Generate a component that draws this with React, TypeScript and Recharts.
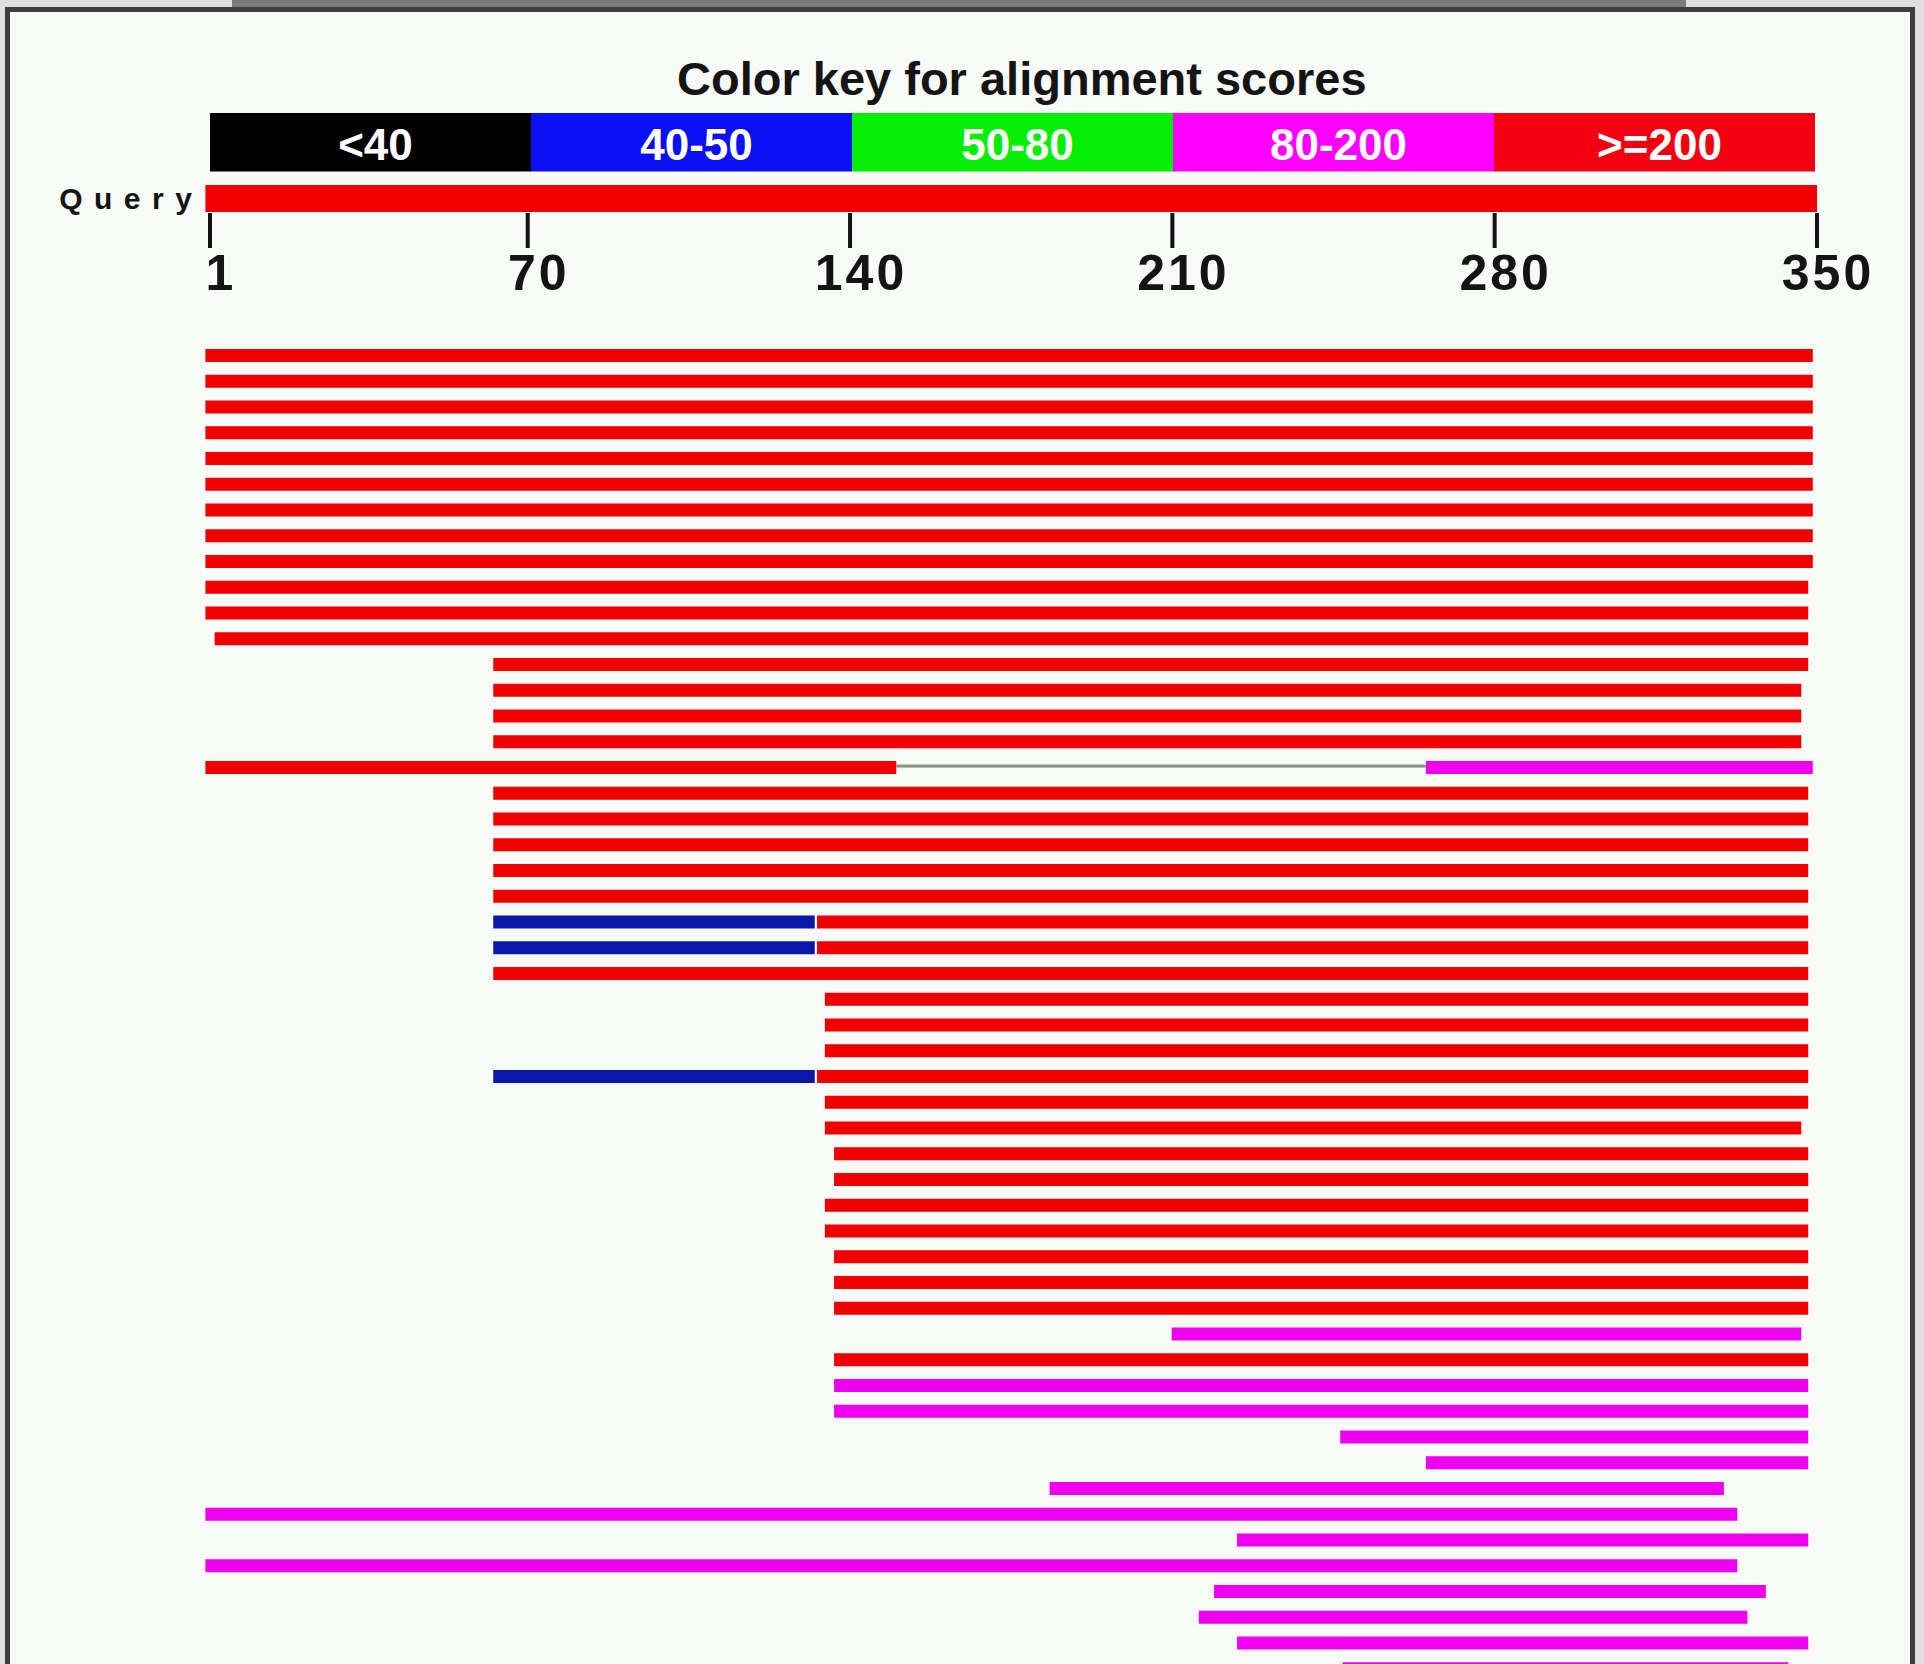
import { BarChart, Bar, XAxis, YAxis, Cell } from 'recharts'

const FONT = '"Liberation Sans", Arial, sans-serif'

// score legend
const scoreBands = ['<40', '40-50', '50-80', '80-200', '>=200']
const keyColors = ['#000000', '#0a0ff4', '#05ee05', '#ff00ff', '#f2000f']
const hitColors = ['#000000', '#0818a8', '#00c000', '#ee00ee', '#f00000']

// query
const queryLength = 350
const axisTicks = [1, 70, 140, 210, 280, 350]

// hits, top to bottom (query coordinates)
const hitStart = [
    0, 0, 0, 0, 0, 0, 0, 0, 0, 0,
    0, 2, 62.5, 62.5, 62.5, 62.5, 0, 62.5, 62.5, 62.5,
    62.5, 62.5, 62.5, 62.5, 62.5, 134.5, 134.5, 134.5, 62.5, 134.5,
    134.5, 136.5, 136.5, 134.5, 134.5, 136.5, 136.5, 136.5, 209.8, 136.5,
    136.5, 136.5, 246.4, 265, 183.3, 0, 224, 0, 219, 215.7,
    224, 246.9,
]
const hitEnd = [
    349, 349, 349, 349, 349, 349, 349, 349, 349, 348,
    348, 348, 348, 346.5, 346.5, 346.5, 349, 348, 348, 348,
    348, 348, 348, 348, 348, 348, 348, 348, 348, 348,
    346.5, 348, 348, 348, 348, 348, 348, 348, 346.5, 348,
    348, 348, 348, 348, 329.7, 332.6, 348, 332.6, 338.8, 334.8,
    348, 343.7,
]
// band index of the (last) HSP of each hit
const hitBand = [
    4, 4, 4, 4, 4, 4, 4, 4, 4, 4,
    4, 4, 4, 4, 4, 4, 3, 4, 4, 4,
    4, 4, 4, 4, 4, 4, 4, 4, 4, 4,
    4, 4, 4, 4, 4, 4, 4, 4, 3, 4,
    3, 3, 3, 3, 3, 3, 3, 3, 3, 3,
    3, 3,
]

// hits made of two HSPs
const splitRows = [16, 22, 23, 28]
const splitFirstEnd = [150, 132.3, 132.3, 132.3]
const splitFirstBand = [4, 1, 1, 1]
const splitSecondStart = [265, 132.8, 132.8, 132.8]

const rows = hitStart.map((start, i) => {
    const s = splitRows.indexOf(i)
    if (s < 0) {
        return { id: `hit${i + 1}`, lead: start, first: hitEnd[i] - start, firstBand: hitBand[i], link: 0, second: 0, secondBand: hitBand[i] }
    }
    return {
        id: `hit${i + 1}`,
        lead: start,
        first: splitFirstEnd[s] - start,
        firstBand: splitFirstBand[s],
        link: splitSecondStart[s] - splitFirstEnd[s],
        second: hitEnd[i] - splitSecondStart[s],
        secondBand: hitBand[i],
    }
})

const keyRow: Record<string, string | number> = { name: 'key' }
scoreBands.forEach(b => { keyRow[b] = 1 })

function LinkShape(props: any) {
    const { x, y, width, height } = props
    if (!width || width < 8) return null
    return <rect x={x} y={y + height / 2 - 3} width={width} height={3} fill="#8a958a" />
}

function AxisTick(props: any) {
    const { x, y, payload } = props
    return (
        <text x={x + 11} y={y} dy="0.71em" textAnchor="middle" fontSize={50} fontWeight="bold" letterSpacing={3} fill="#141414" fontFamily={FONT}>
            {payload.value}
        </text>
    )
}

function QueryTick(props: any) {
    const { x, y, payload } = props
    return (
        <text x={x} y={y} dy="0.36em" textAnchor="end" fontSize={30} fontWeight="bold" letterSpacing={11.5} fill="#141414" fontFamily={FONT}>
            {payload.value}
        </text>
    )
}

export default function App() {
    return (
        <div style={{ position: 'absolute', left: 0, top: 0, width: 1924, height: 1664, overflow: 'hidden', background: '#dedede', fontFamily: FONT }}>
            <div style={{ position: 'absolute', left: 232, top: 0, width: 1454, height: 8, background: '#7a7a7a' }} />
            <div style={{ position: 'absolute', left: 5, top: 7, width: 1910, height: 1720, boxSizing: 'border-box', border: '5px solid #3e3e3e', background: '#f7faf6' }} />

            <div style={{ position: 'absolute', left: 677, top: 56, fontSize: 47, lineHeight: '46px', fontWeight: 'bold', color: '#141414', whiteSpace: 'nowrap' }}>
                Color key for alignment scores
            </div>

            <div style={{ position: 'absolute', left: 0, top: 110 }}>
                <BarChart layout="vertical" width={1924} height={65} data={[keyRow]} margin={{ top: 0, right: 109, bottom: 0, left: 210 }} barCategoryGap={0}>
                    <XAxis type="number" hide domain={[0, scoreBands.length]} />
                    <YAxis type="category" dataKey="name" hide />
                    {scoreBands.map((band, i) => (
                        <Bar
                            key={band}
                            dataKey={band}
                            stackId="key"
                            fill={keyColors[i]}
                            barSize={65}
                            isAnimationActive={false}
                            label={(p: any) => (
                                <text x={p.x + p.width / 2 + 5} y={p.y + p.height / 2 + 2} dy="0.36em" textAnchor="middle" fontSize={44} fontWeight="bold" fill="#ffffff" fontFamily={FONT}>
                                    {band}
                                </text>
                            )}
                        />
                    ))}
                </BarChart>
            </div>

            <div style={{ position: 'absolute', left: 0, top: 183 }}>
                <BarChart layout="vertical" width={1924} height={120} data={[{ name: 'Query', length: queryLength }]} margin={{ top: 0, right: 107, bottom: 0, left: 0 }}>
                    <XAxis
                        type="number"
                        domain={[0, queryLength]}
                        ticks={axisTicks}
                        interval={0}
                        axisLine={false}
                        tickLine={{ stroke: '#141414', strokeWidth: 4 }}
                        tickSize={35}
                        tickMargin={6}
                        height={90}
                        tick={<AxisTick />}
                    />
                    <YAxis type="category" dataKey="name" width={205.4} axisLine={false} tickLine={false} tickSize={0} tickMargin={2} tick={<QueryTick />} />
                    <Bar dataKey="length" fill="#f00000" barSize={30} isAnimationActive={false} />
                </BarChart>
            </div>

            <div style={{ position: 'absolute', left: 0, top: 0 }}>
                <BarChart layout="vertical" width={1924} height={1682} data={rows} margin={{ top: 343.1, right: 106.6, bottom: 0, left: 205.4 }}>
                    <XAxis type="number" hide domain={[0, queryLength]} />
                    <YAxis type="category" dataKey="id" hide />
                    <Bar dataKey="lead" stackId="hit" fill="transparent" barSize={13} isAnimationActive={false} />
                    <Bar dataKey="first" stackId="hit" barSize={13} isAnimationActive={false}>
                        {rows.map(r => <Cell key={r.id} fill={hitColors[r.firstBand]} />)}
                    </Bar>
                    <Bar dataKey="link" stackId="hit" barSize={13} shape={LinkShape} isAnimationActive={false} />
                    <Bar dataKey="second" stackId="hit" barSize={13} isAnimationActive={false}>
                        {rows.map(r => <Cell key={r.id} fill={hitColors[r.secondBand]} />)}
                    </Bar>
                </BarChart>
            </div>
        </div>
    )
}
